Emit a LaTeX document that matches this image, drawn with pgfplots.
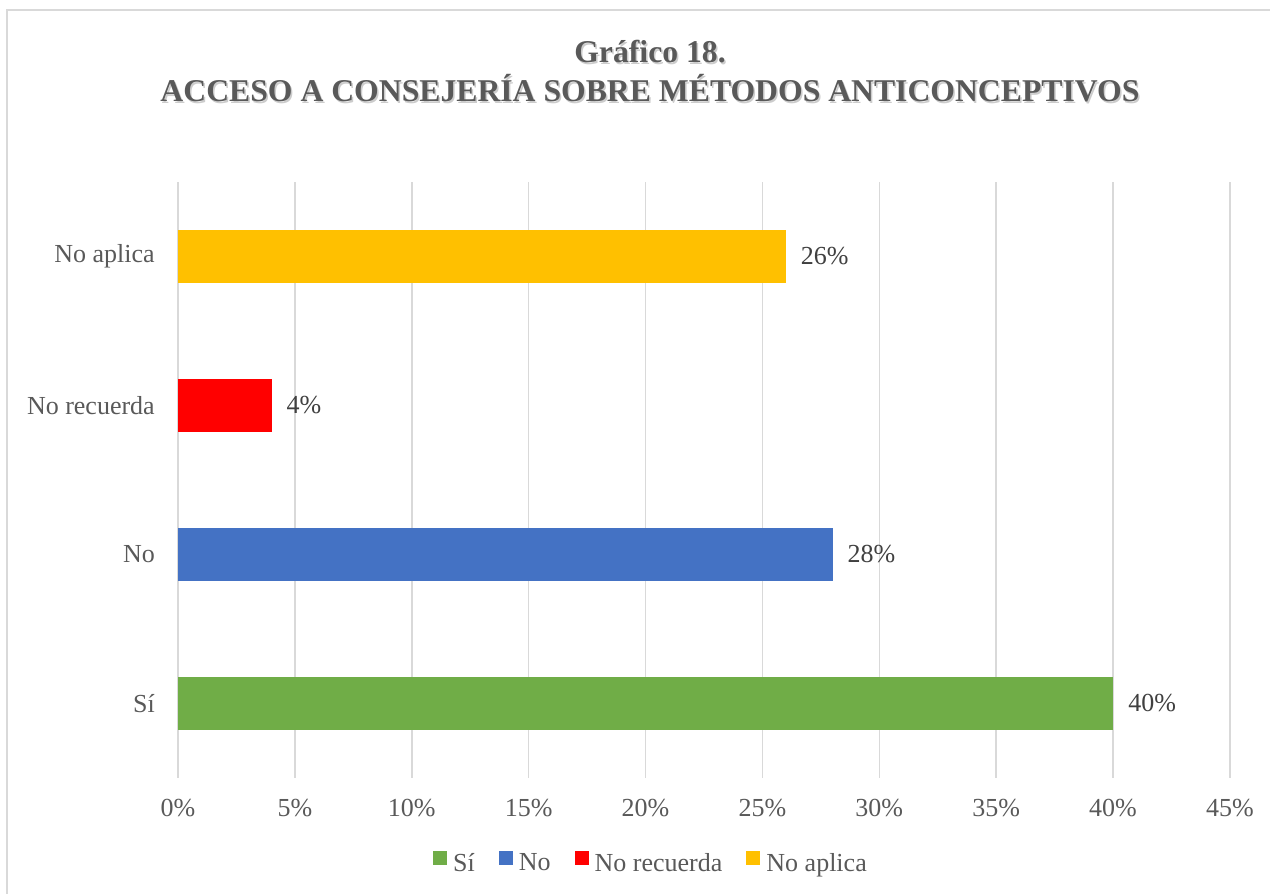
\documentclass[border=0pt]{standalone}
\usepackage{pgfplots}
\pgfplotsset{compat=1.18}
\usepackage{fontspec}
\setmainfont{Liberation Serif}
\definecolor{txt}{HTML}{595959}
\definecolor{lbl}{HTML}{404040}
\definecolor{gridc}{HTML}{D9D9D9}
\definecolor{cSi}{HTML}{70AD47}
\definecolor{cNo}{HTML}{4472C4}
\definecolor{cNR}{HTML}{FF0000}
\definecolor{cNA}{HTML}{FFC000}
\begin{document}
\begin{tikzpicture}[x=1pt,y=1pt]
\useasboundingbox (0,0) rectangle (1270,894);
\clip (0,0) rectangle (1270,894);
\draw[gridc, line width=1.5pt] (7,-20) rectangle (1300,884);
% title with soft shadow
\foreach \t/\yy in {{Gráfico 18.}/831,{ACCESO A CONSEJERÍA SOBRE MÉTODOS ANTICONCEPTIVOS}/792}{
  \node[anchor=base, font=\fontsize{31.7}{38}\selectfont\bfseries, text=black!20] at (651.5,\yy-1.5) {\t};
  \node[anchor=base, font=\fontsize{31.7}{38}\selectfont\bfseries, text=txt] at (650,\yy) {\t};
}
\begin{axis}[
  at={(178pt,116pt)}, anchor=south west, scale only axis,
  width=1052pt, height=596pt,
  xmin=0, xmax=45, ymin=-0.5, ymax=3.5,
  xbar,
  xtick={0,5,10,15,20,25,30,35,40,45},
  xticklabels={0\%,5\%,10\%,15\%,20\%,25\%,30\%,35\%,40\%,45\%},
  ytick={0,1,2,3},
  yticklabels={Sí,No,No recuerda,No aplica},
  xmajorgrids, grid style={gridc, line width=1.5pt},
  axis line style={draw=none},
  major tick length=0pt,
  tick label style={font=\fontsize{26}{31}\selectfont, text=txt, inner sep=0pt},
  xticklabel style={yshift=-21pt},
  yticklabel style={xshift=-23pt},
  point meta=x,
  /pgf/number format/assume math mode=true,
  nodes near coords={\pgfmathprintnumber{\pgfplotspointmeta}\%},
  nodes near coords style={font=\fontsize{26}{31}\selectfont, text=lbl, anchor=west, inner sep=0pt, xshift=15pt},
  legend style={at={(0.4487,-0.141)}, anchor=center, draw=none, fill=none,
    legend columns=-1,
    font=\fontsize{26}{31}\selectfont, text=txt,
    nodes={inner sep=0pt},
    /tikz/every odd column/.append style={column sep=6pt},
    /tikz/every even column/.append style={column sep=24pt}},
  legend image code/.code={\fill[#1] (0pt,-2pt) rectangle (14pt,12pt);},
]
\addplot[draw=none, fill=cSi, bar width=53pt, bar shift=0pt] coordinates {(40,0)};
\addplot[draw=none, fill=cNo, bar width=53pt, bar shift=0pt] coordinates {(28,1)};
\addplot[draw=none, fill=cNR, bar width=53pt, bar shift=0pt] coordinates {(4,2)};
\addplot[draw=none, fill=cNA, bar width=53pt, bar shift=0pt] coordinates {(26,3)};
\legend{Sí,No,No recuerda,No aplica}
\end{axis}
\end{tikzpicture}
\end{document}
